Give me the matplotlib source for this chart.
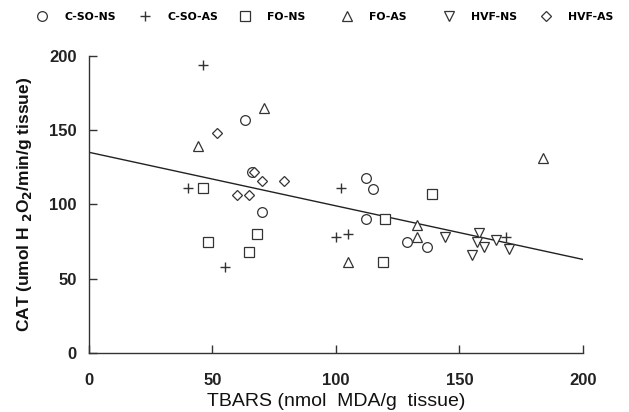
import matplotlib
matplotlib.use("Agg")
import matplotlib.pyplot as plt
import numpy as np

plt.rcParams['font.family'] = ['Liberation Sans', 'DejaVu Sans']

# Data
cso_ns_x = [63, 70, 112, 115, 112, 129, 137, 66]
cso_ns_y = [157, 95, 118, 110, 90, 75, 71, 122]
cso_as_x = [46, 40, 102, 55, 100, 105, 169]
cso_as_y = [194, 111, 111, 58, 78, 80, 78]
fo_ns_x = [46, 48, 68, 65, 139, 120, 119]
fo_ns_y = [111, 75, 80, 68, 107, 90, 61]
fo_as_x = [71, 44, 105, 133, 133, 184]
fo_as_y = [165, 139, 61, 86, 78, 131]
hvf_ns_x = [144, 158, 157, 160, 155, 165, 170]
hvf_ns_y = [78, 81, 75, 71, 66, 76, 70]
hvf_as_x = [52, 70, 79, 60, 65, 67]
hvf_as_y = [148, 116, 116, 106, 106, 122]

fit_intercept = 135.0
fit_slope = -0.36
fit_range = [0, 200]

x_ticks = [0, 50, 100, 150, 200]
y_ticks = [0, 50, 100, 150, 200]

series = [
    ("C-SO-NS", cso_ns_x, cso_ns_y, "o"),
    ("C-SO-AS", cso_as_x, cso_as_y, "+"),
    ("FO-NS", fo_ns_x, fo_ns_y, "s"),
    ("FO-AS", fo_as_x, fo_as_y, "^"),
    ("HVF-NS", hvf_ns_x, hvf_ns_y, "v"),
    ("HVF-AS", hvf_as_x, hvf_as_y, "D"),
]

W, H = 629, 412
fig = plt.figure(figsize=(W / 100, H / 100), dpi=100)
ax = fig.add_axes([0.1415, 0.143, 0.785, 0.722])

ec = "#333333"
handles = []
for name, xs, ys, m in series:
    size = 7 if m != "D" else 5
    if m == "+":
        h, = ax.plot(xs, ys, linestyle="none", marker=m, markersize=7,
                     color=ec, markeredgewidth=1.0, label=name)
    else:
        h, = ax.plot(xs, ys, linestyle="none", marker=m, markersize=size,
                     markerfacecolor="white", markeredgecolor=ec,
                     markeredgewidth=0.9, label=name)
    handles.append(h)

fx = np.array(fit_range, dtype=float)
ax.plot(fx, fit_intercept + fit_slope * fx, color="#222222", linewidth=1.0, zorder=1)

ax.set_xlim(0, 200)
ax.set_ylim(0, 200)
ax.set_xticks(x_ticks)
ax.set_yticks(y_ticks)
ax.spines['top'].set_visible(False)
ax.spines['right'].set_visible(False)
for s in ['left', 'bottom']:
    ax.spines[s].set_color("#333333")
    ax.spines[s].set_linewidth(1.0)
ax.tick_params(axis='both', direction='in', length=6, width=1.0, color="#333333",
               labelsize=12, pad=9)
ax.tick_params(axis='x', pad=14)
for lab in ax.get_xticklabels() + ax.get_yticklabels():
    lab.set_fontweight('bold')
    lab.set_color('#222222')

ax.set_xlabel("TBARS (nmol  MDA/g  tissue)", fontsize=14, color='#111111', labelpad=4)
ax.set_ylabel("CAT (umol H $_{\\bf 2}$O$_{\\bf 2}$/min/g tissue)", fontsize=12.5,
              fontweight='bold', color='#111111', labelpad=11)

# Legend entries evenly spaced across the top (marker centres in pixels)
leg_fs = 7.8
fs_px = leg_fs * 100 / 72
marker_centres = [42, 145, 245, 347, 449, 546]
for h, xc in zip(handles, marker_centres):
    left_px = xc - 0.5 * fs_px - 0.4 * fs_px
    fig.legend(handles=[h], loc='center left',
               bbox_to_anchor=(left_px / W, 1 - 17 / H),
               frameon=False, handlelength=1.0, handletextpad=1.55,
               borderpad=0.4, borderaxespad=0.0,
               prop={'family': 'DejaVu Sans', 'weight': 'bold', 'size': leg_fs})

fig.savefig("out.png", dpi=100)
